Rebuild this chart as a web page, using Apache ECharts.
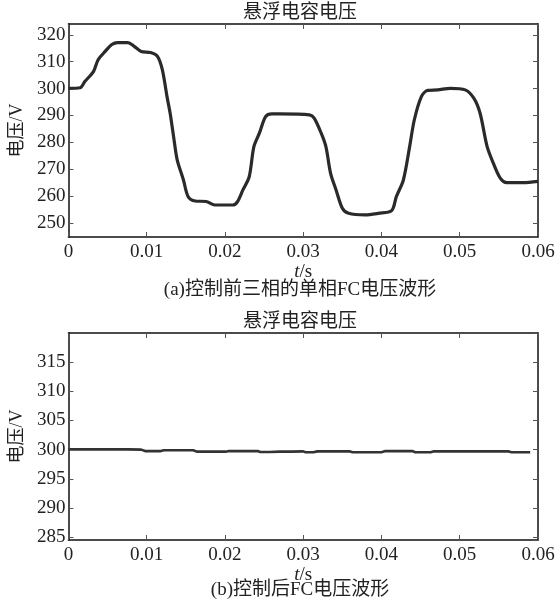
<!DOCTYPE html>
<html>
<head>
<meta charset="utf-8">
<script src="https://cdn.jsdelivr.net/npm/echarts@6/dist/echarts.min.js"></script>
<style>
html, body { margin: 0; padding: 0; background: #fff; }
#chart { width: 558px; height: 604px; }
</style>
</head>
<body>
<div id="chart"></div>
<script>
// (a) before control
var timeA = [0, 0.0015, 0.0021, 0.0032, 0.0038, 0.0047, 0.0055, 0.0063, 0.0076, 0.0084,
    0.0093, 0.0105, 0.0114, 0.012, 0.0126, 0.013, 0.0135, 0.0139, 0.0147, 0.0153,
    0.0162, 0.0176, 0.0187, 0.021, 0.0216, 0.0223, 0.0231, 0.0237, 0.0244, 0.0252,
    0.026, 0.027, 0.0308, 0.0314, 0.0323, 0.0329, 0.0335, 0.0342, 0.035, 0.0358,
    0.0379, 0.0396, 0.0413, 0.0419, 0.0428, 0.0436, 0.0442, 0.0451, 0.0459, 0.0472,
    0.0488, 0.0507, 0.0518, 0.0526, 0.0535, 0.0543, 0.0552, 0.056, 0.0581, 0.06];
var voltA = [300.1, 300.3, 302.6, 306.3, 310.7, 313.8, 316.3, 317.1, 317.1, 315.7,
    313.8, 313.4, 311.9, 307, 297, 290.8, 280.9, 273.5, 266, 259.8,
    258.2, 258, 256.7, 256.7, 257.9, 262.3, 267.2, 278.4, 283.4, 289.6,
    290.6, 290.6, 290.2, 289, 283.4, 278.4, 268.5, 262.3, 255.5, 253.6,
    253, 253.6, 254.6, 259.8, 266, 278.4, 288.4, 297, 299.3, 299.5,
    300.1, 299.5, 296.4, 290.8, 278.4, 272.2, 266.6, 265, 265, 265.5];

// (b) after control
var timeB = [0, 0.003, 0.006, 0.0093, 0.0098, 0.0114, 0.0122, 0.0155, 0.0164, 0.0197,
    0.0205, 0.0239, 0.0245, 0.027, 0.030, 0.0303, 0.0313, 0.0318, 0.0355, 0.0363,
    0.040, 0.0405, 0.044, 0.0443, 0.0463, 0.0467, 0.0562, 0.0566, 0.059];
var voltB = [300.05, 300.05, 300.05, 300.0, 299.75, 299.75, 299.9, 299.9, 299.65, 299.65,
    299.75, 299.75, 299.6, 299.65, 299.7, 299.55, 299.55, 299.7, 299.7, 299.55,
    299.55, 299.75, 299.75, 299.55, 299.55, 299.7, 299.7, 299.55, 299.55];

var titleText = '悬浮电容电压';
var captionA = '(a)控制前三相的单相FC电压波形';
var captionB = '(b)控制后FC电压波形';

function pairs(xs, ys) {
    var arr = [];
    for (var i = 0; i < xs.length; i++) arr.push([xs[i], ys[i]]);
    return arr;
}

var font = "Liberation Serif, Noto Sans CJK SC, serif";

function xAxes(gi, gap) {
    return [{
        gridIndex: gi, type: 'value', min: 0, max: 0.06, interval: 0.01,
        axisLine: { show: true, onZero: false, lineStyle: { color: '#111', width: 1.5 } },
        axisTick: { show: true, inside: true, length: 5, lineStyle: { color: '#555' } },
        splitLine: { show: false },
        axisLabel: { margin: 6, color: '#222', fontFamily: font, fontSize: 19 },
        name: '{i|t}/s', nameLocation: 'middle', nameGap: gap,
        nameTextStyle: {
            color: '#222', fontFamily: font, fontSize: 19,
            rich: { i: { fontStyle: 'italic', fontFamily: font, fontSize: 19, color: '#222' } }
        }
    }, {
        gridIndex: gi, type: 'value', position: 'top', min: 0, max: 0.06, interval: 0.01,
        axisLine: { show: true, onZero: false, lineStyle: { color: '#111', width: 1.5 } },
        axisTick: { show: true, inside: true, length: 5, lineStyle: { color: '#555' } },
        axisLabel: { show: false },
        splitLine: { show: false }
    }];
}

function yAxes(gi, min, max, split) {
    return [{
        gridIndex: gi, type: 'value', min: min, max: max, splitNumber: split,
        axisLine: { show: true, onZero: false, lineStyle: { color: '#111', width: 1.5 } },
        axisTick: { show: true, inside: true, length: 5, lineStyle: { color: '#555' } },
        splitLine: { show: false },
        axisLabel: { margin: 3, showMinLabel: false, showMaxLabel: false,
            color: '#222', fontFamily: font, fontSize: 19 },
        name: '电压/V', nameLocation: 'middle', nameGap: 40,
        nameTextStyle: { color: '#222', fontFamily: font, fontSize: 18 }
    }, {
        gridIndex: gi, type: 'value', position: 'right', min: min, max: max, splitNumber: split,
        axisLine: { show: true, onZero: false, lineStyle: { color: '#111', width: 1.5 } },
        axisTick: { show: true, inside: true, length: 5, lineStyle: { color: '#555' } },
        axisLabel: { show: false },
        splitLine: { show: false }
    }];
}

function textItem(str, x, y) {
    return {
        type: 'text', x: x, y: y,
        style: {
            text: str, fill: '#222', font: '19px ' + font,
            textAlign: 'center', textVerticalAlign: 'middle'
        }
    };
}

var myChart = echarts.init(document.getElementById('chart'));
var option = {
    backgroundColor: '#fff',
    animation: false,
    textStyle: { fontFamily: font },
    grid: [
        { left: 63, top: 24, width: 475, height: 213 },
        { left: 63, top: 333, width: 475, height: 207 }
    ],
    xAxis: xAxes(0, 22).concat(xAxes(1, 21)),
    yAxis: yAxes(0, 244.8, 324, 8).concat(yAxes(1, 284.5, 320, 7)),
    graphic: [
        textItem(titleText, 300, 13),
        textItem(captionA, 300, 290),
        textItem(titleText, 300, 322),
        textItem(captionB, 300, 590)
    ],
    series: [{
        type: 'line', xAxisIndex: 0, yAxisIndex: 0,
        data: pairs(timeA, voltA), showSymbol: false, smooth: 0.3,
        lineStyle: { color: '#2a2a2a', width: 3.2 }
    }, {
        type: 'line', xAxisIndex: 2, yAxisIndex: 2,
        data: pairs(timeB, voltB), showSymbol: false, step: 'middle',
        lineStyle: { color: '#333', width: 2.6 }
    }, {
        // empty series so the mirrored frame axes get drawn
        type: 'line', xAxisIndex: 1, yAxisIndex: 1, data: [], silent: true
    }, {
        type: 'line', xAxisIndex: 3, yAxisIndex: 3, data: [], silent: true
    }]
};
myChart.setOption(option);
window.onresize = function () { myChart.resize(); };
</script>
</body>
</html>
